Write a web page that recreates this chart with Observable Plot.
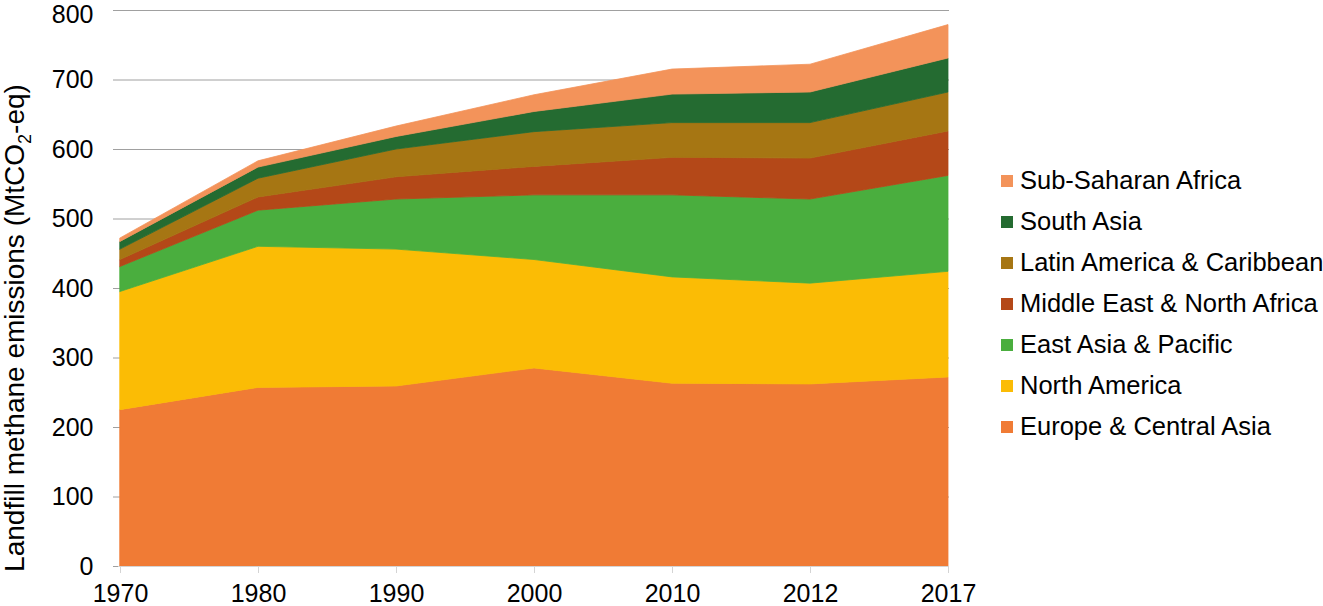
<!DOCTYPE html>
<html><head><meta charset="utf-8">
<script src="https://cdn.jsdelivr.net/npm/d3@7"></script>
<script src="https://cdn.jsdelivr.net/npm/@observablehq/plot@0.6"></script>
<style>
body{margin:0;background:#fff;font-family:"Liberation Sans",Arial,sans-serif;}
#wrap{position:relative;width:1323px;height:606px;overflow:hidden;}
#legend{position:absolute;left:1001px;top:160px;font-size:25.5px;color:#000;line-height:1;}
.item{display:flex;align-items:center;height:41px;white-space:nowrap;}
.sw{width:12px;height:12px;margin-right:7px;flex:none;}
</style></head><body>
<div id="wrap"><div id="legend"></div></div>
<script>
const years = ["1970","1980","1990","2000","2010","2012","2017"];
// stacking order: bottom to top
const regions = ["Europe & Central Asia","North America","East Asia & Pacific","Middle East & North Africa","Latin America & Caribbean","South Asia","Sub-Saharan Africa"];
const colors = ["#F07B35","#FBBC05","#4AAE3E","#B44818","#A67613","#246B31","#F3935A"];
const europe = [225,257,259,285,263,262,272];
const northAmerica = [170,203,197,156,153,145,152];
const eastAsia = [36,52,72,93,118,121,138];
const middleEast = [10,19,32,41,54,59,64];
const latinAmerica = [15,27,40,50,50,51,56];
const southAsia = [11,16,18,29,41,44,49];
const subSaharan = [5,9,15,24,36,40,48];
const yTicks = [0,100,200,300,400,500,600,700,800];

const series = [europe,northAmerica,eastAsia,middleEast,latinAmerica,southAsia,subSaharan];
const rows = [];
regions.forEach((r,i)=>years.forEach((y,j)=>rows.push({year:y,region:r,value:series[i][j]})));

const yLabel = () => {
  const t = d3.create("svg:text")
    .attr("transform","translate(24,328) rotate(-90)")
    .attr("text-anchor","middle")
    .attr("font-size",28)
    .attr("fill","#000");
  t.append("tspan").text("Landfill methane emissions (MtCO");
  t.append("tspan").attr("font-size",18).attr("dy",7).text("2");
  t.append("tspan").attr("dy",-7).text("-eq)");
  return t.node();
};

const topTick = yTicks[yTicks.length - 1];

const chart = Plot.plot({
  width: 1323,
  height: 606,
  marginLeft: 118,
  marginRight: 374,
  marginTop: 10,
  marginBottom: 40,
  style: {fontFamily: "'Liberation Sans', Arial, sans-serif", color: "#000", background: "#fff"},
  x: {type: "point", domain: years, padding: 0},
  y: {domain: [0, 800]},
  color: {domain: regions, range: colors},
  marks: [
    Plot.gridY(yTicks.filter(d=>d>0), {stroke: "#a0a0a0", strokeOpacity: 1, strokeWidth: 1}),
    Plot.areaY(rows, {x: "year", y: "value", z: "region", fill: "region", stroke: "region", strokeWidth: 0.8, order: regions}),
    Plot.ruleY([0], {stroke: "#d4d4d4", strokeWidth: 1}),
    Plot.axisY({ticks: yTicks, tickSize: 5, text: null, stroke: "#a0a0a0", label: null}),
    Plot.axisY({ticks: yTicks.filter(d => d !== topTick), tickSize: 0, tickPadding: 25, fontSize: 25, fill: "#000", label: null}),
    Plot.axisY({ticks: [topTick], tickSize: 0, tickPadding: 25, dy: 4, fontSize: 25, fill: "#000", label: null}),
    Plot.axisX({tickSize: 7, tickPadding: 11, fontSize: 25, stroke: "#d4d4d4", fill: "#000", label: null}),
    yLabel
  ]
});
document.getElementById("wrap").prepend(chart);

const legend = document.getElementById("legend");
regions.slice().reverse().forEach(r => {
  const c = colors[regions.indexOf(r)];
  const it = document.createElement("div");
  it.className = "item";
  const sw = document.createElement("span");
  sw.className = "sw";
  sw.style.background = c;
  const tx = document.createElement("span");
  tx.textContent = r;
  it.appendChild(sw); it.appendChild(tx);
  legend.appendChild(it);
});
</script>
</body></html>
